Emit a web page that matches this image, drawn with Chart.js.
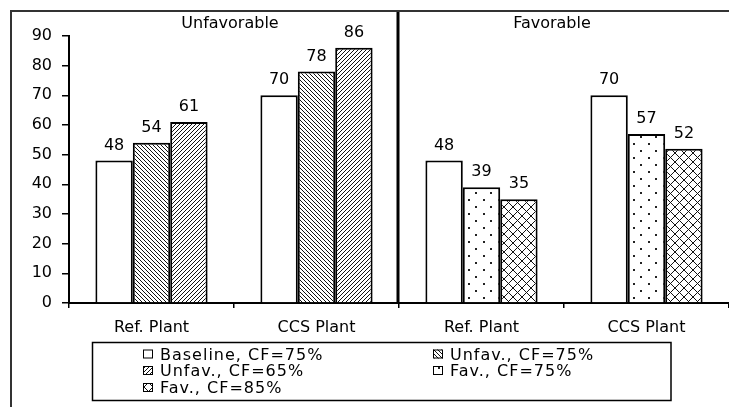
<!DOCTYPE html>
<html lang="en">
<head>
    <meta charset="UTF-8">
    <title>Unfavorable / Favorable</title>
    <script src="https://cdn.jsdelivr.net/npm/chart.js"></script>
    <style>
        html, body { margin: 0; padding: 0; background: #fff; }
    </style>
</head>
<body>
    <canvas id="chart" width="729" height="407"></canvas>

    <script>
        // data
        const categories = ['Ref. Plant', 'CCS Plant', 'Ref. Plant', 'CCS Plant'];
        const baseline75 = [48, 70, 48, 70];
        const unfav75 = [54, 78, null, null];
        const unfav65 = [61, 86, null, null];
        const fav75 = [null, null, 39, 57];
        const fav85 = [null, null, 35, 52];
        const seriesLabels = ['Baseline, CF=75%', 'Unfav., CF=75%', 'Unfav., CF=65%', 'Fav., CF=75%', 'Fav., CF=85%'];
        const sectionTitles = ['Unfavorable', 'Favorable'];
        const yMax = 90;
        const yStep = 10;

        const FONT = '"DejaVu Sans", sans-serif';

        // fill patterns
        function makePattern(kind) {
            const c = document.createElement('canvas');
            const g = c.getContext('2d');
            if (kind === 'back' || kind === 'fwd') {
                c.width = 4; c.height = 4;
                g.fillStyle = '#fff'; g.fillRect(0, 0, 4, 4);
                g.fillStyle = '#111';
                for (let i = 0; i < 4; i++) {
                    g.fillRect(kind === 'back' ? i : 3 - i, i, 1, 1);
                }
            } else if (kind === 'dots') {
                c.width = 15; c.height = 14;
                g.fillStyle = '#fff'; g.fillRect(0, 0, 15, 14);
                g.fillStyle = '#222';
                g.fillRect(3, 3, 2, 2);
                g.fillRect(10, 10, 2, 2);
            } else if (kind === 'cross') {
                c.width = 9; c.height = 9;
                g.fillStyle = '#fff'; g.fillRect(0, 0, 9, 9);
                g.fillStyle = '#111';
                for (let i = 0; i < 9; i++) {
                    g.fillRect(i, i, 1, 1);
                    g.fillRect(8 - i, i, 1, 1);
                }
            }
            return g.createPattern(c, 'repeat');
        }

        const fills = ['#ffffff', makePattern('back'), makePattern('fwd'), makePattern('dots'), makePattern('cross')];
        const seriesData = [baseline75, unfav75, unfav65, fav75, fav85];

        const decor = {
            id: 'decor',
            beforeDraw(chart) {
                const ctx = chart.ctx;
                ctx.save();
                ctx.fillStyle = '#fff';
                ctx.fillRect(0, 0, chart.width, chart.height);
                // outer frame (top and left only visible)
                ctx.strokeStyle = '#333';
                ctx.lineWidth = 2;
                ctx.beginPath();
                ctx.moveTo(11, chart.height);
                ctx.lineTo(11, 11);
                ctx.lineTo(chart.width, 11);
                ctx.stroke();
                ctx.restore();
            },
            afterDatasetsDraw(chart) {
                const ctx = chart.ctx;
                const area = chart.chartArea;
                const x = chart.scales.x;
                ctx.save();

                // value labels
                ctx.fillStyle = '#000';
                ctx.font = '16px ' + FONT;
                ctx.textAlign = 'center';
                ctx.textBaseline = 'alphabetic';
                chart.data.datasets.forEach((ds, i) => {
                    const meta = chart.getDatasetMeta(i);
                    meta.data.forEach((bar, j) => {
                        if (ds.data[j] == null) return;
                        ctx.fillText(String(ds.data[j]), bar.x, bar.y - 11);
                    });
                });

                // separator between the two halves
                const sepX = (x.getPixelForValue(1) + x.getPixelForValue(2)) / 2 - 1;
                ctx.strokeStyle = '#000';
                ctx.lineWidth = 3;
                ctx.beginPath();
                ctx.moveTo(sepX, 12);
                ctx.lineTo(sepX, area.bottom);
                ctx.stroke();

                // section titles
                ctx.font = '16px ' + FONT;
                ctx.fillText(sectionTitles[0], x.getPixelForValue(0.5) - 4, 28);
                ctx.fillText(sectionTitles[1], x.getPixelForValue(2.5) - 12, 28);

                // legend box
                ctx.lineWidth = 1.5;
                ctx.strokeRect(92.5, 342.5, 578.5, 58);
                ctx.textAlign = 'left';
                ctx.letterSpacing = '1px';
                const cols = [143, 433];
                const rows = [359.5, 376, 393];
                chart.data.datasets.forEach((ds, i) => {
                    const cx = cols[i % 2];
                    const by = rows[Math.floor(i / 2)];
                    ctx.fillStyle = ds.backgroundColor;
                    ctx.fillRect(cx, by - 10, 10, 9);
                    ctx.lineWidth = 1;
                    ctx.strokeStyle = '#000';
                    ctx.strokeRect(cx + 0.5, by - 9.5, 9, 8);
                    ctx.fillStyle = '#000';
                    ctx.fillText(ds.label, cx + 17, by);
                });
                ctx.restore();
            }
        };

        const ctx = document.getElementById('chart').getContext('2d');
        new Chart(ctx, {
            type: 'bar',
            data: {
                labels: categories,
                datasets: seriesData.map((d, i) => ({
                    label: seriesLabels[i],
                    data: d,
                    backgroundColor: fills[i],
                    borderColor: '#000',
                    borderWidth: 2,
                    categoryPercentage: 0.68,
                    barPercentage: 1.0
                }))
            },
            options: {
                responsive: false,
                animation: false,
                devicePixelRatio: 1,
                skipNull: true,
                layout: { padding: { top: 36, left: 0, right: 0, bottom: 0 } },
                plugins: {
                    legend: { display: false },
                    tooltip: { enabled: false }
                },
                scales: {
                    x: {
                        offset: true,
                        grid: { offset: true, drawOnChartArea: false, tickLength: 5, color: '#000', lineWidth: 1.5 },
                        border: { color: '#000', width: 2 },
                        ticks: { color: '#000', font: { family: FONT, size: 16 }, padding: 10, maxRotation: 0 },
                        afterFit(scale) { scale.height = 104; }
                    },
                    y: {
                        min: 0,
                        max: yMax,
                        grid: { drawOnChartArea: false, tickLength: 7, color: '#000', lineWidth: 1.5 },
                        border: { color: '#000', width: 2 },
                        ticks: { stepSize: yStep, color: '#000', font: { family: FONT, size: 16 }, padding: 10 },
                        afterFit(scale) { scale.width = 69; }
                    }
                }
            },
            plugins: [decor]
        });
    </script>
</body>
</html>
